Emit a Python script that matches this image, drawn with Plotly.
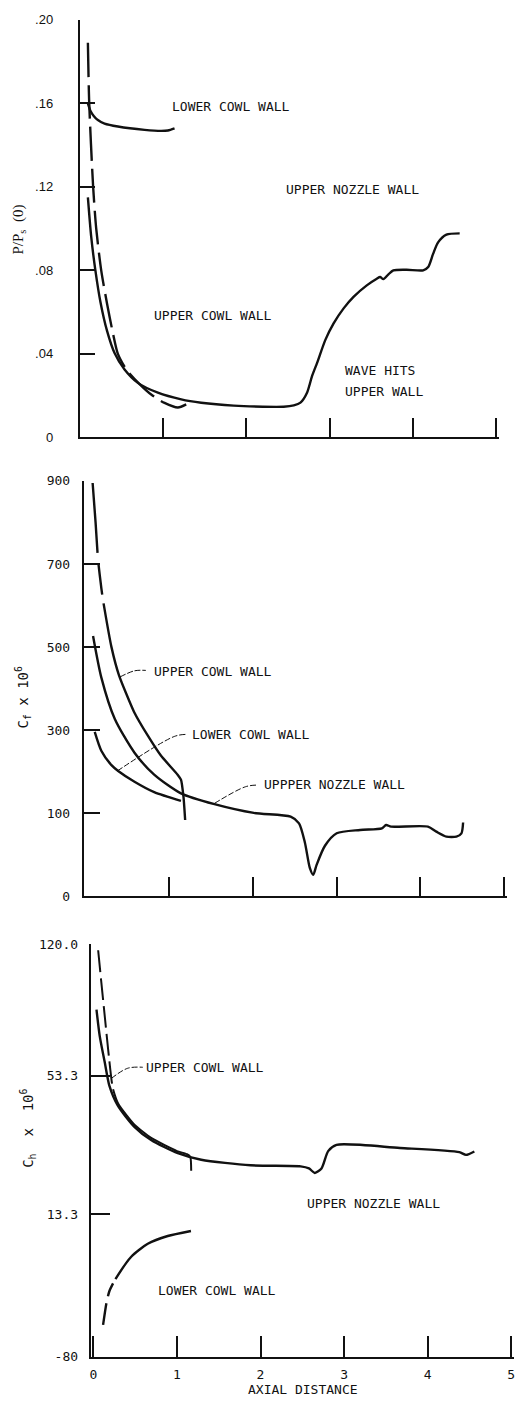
import numpy as np
import plotly.graph_objects as go

W, H = 528, 1412
INK = "#111111"

# ---------------- Panel 1: P/Ps(0) ----------------
p1_ytick_vals = [0, 0.04, 0.08, 0.12, 0.16, 0.20]
p1_ytick_text = ["0", ".04", ".08", ".12", ".16", ".20"]

p1_ucw_x = [0.10, 0.116, 0.163, 0.20, 0.26, 0.33, 0.40, 0.46, 0.57, 0.72, 0.86, 1.02, 1.18, 1.28]
p1_ucw_y = [0.189, 0.160, 0.120, 0.100, 0.080, 0.064, 0.050, 0.040, 0.032, 0.0255, 0.0205, 0.0165, 0.0143, 0.0158]

p1_unw_x = [0.10, 0.14, 0.19, 0.25, 0.33, 0.42, 0.54, 0.70, 0.94, 1.22, 1.46, 1.85, 2.20, 2.45, 2.571,
            2.651, 2.730, 2.790, 2.850, 2.950, 3.049, 3.169, 3.288, 3.447, 3.567, 3.607, 3.647, 3.707,
            3.766, 3.925, 4.124, 4.184, 4.243, 4.303, 4.403, 4.562]
p1_unw_y = [0.115, 0.096, 0.080, 0.065, 0.051, 0.0404, 0.0325, 0.0261, 0.0214, 0.0182, 0.0166, 0.0152,
            0.0147, 0.0147, 0.01536, 0.01663, 0.02138, 0.0293, 0.0356, 0.0467, 0.0546, 0.0618, 0.0673,
            0.0728, 0.0760, 0.0768, 0.0758, 0.0781, 0.0800, 0.0803, 0.0800, 0.0816, 0.0879, 0.0934,
            0.0971, 0.0977]

p1_lcw_x = [0.10, 0.13, 0.17, 0.22, 0.30, 0.46, 0.78, 0.98, 1.06, 1.14]
p1_lcw_y = [0.160, 0.1565, 0.1540, 0.1520, 0.1503, 0.1489, 0.1473, 0.1468, 0.1470, 0.1480]

# ---------------- Panel 2: Cf x 10^6 ----------------
p2_ytick_vals = [0, 100, 300, 500, 700, 900]
p2_ytick_pos = [0, 1, 2, 3, 4, 5]          # the original axis spaces these labels evenly
p2_ytick_text = ["0", "100", "300", "500", "700", "900"]

p2_ucw_x = [0.085, 0.12, 0.15, 0.19, 0.21, 0.31, 0.40, 0.58, 0.75, 0.90, 1.10, 1.14, 1.17, 1.19]
p2_ucw_y = [895, 800, 709, 640, 612, 500, 432, 344, 285, 239, 193, 181, 140, 92]

p2_unw_x = [0.09, 0.19, 0.35, 0.585, 0.82, 1.14, 1.54, 2.01, 2.45, 2.55, 2.62, 2.68, 2.72, 2.76,
            2.86, 3.0, 3.28, 3.54, 3.59, 3.65, 4.09, 4.19, 4.31, 4.43, 4.49, 4.51]
p2_unw_y = [527, 426, 327, 246, 193, 148, 122, 101, 96, 88, 65, 34, 26, 38,
            61, 76, 80, 82, 86, 84, 84, 78, 72, 72, 76, 89]

p2_lcw_x = [0.11, 0.19, 0.31, 0.39, 0.585, 0.82, 1.14]
p2_lcw_y = [296, 250, 216, 202, 176, 151, 130]

# ---------------- Panel 3: Ch x 10^6 ----------------
p3_ytick_vals = [-80, 13.3, 53.3, 120.0]
p3_ytick_pos = [0, 0.345, 0.681, 1.0]       # uneven spacing of the original axis
p3_ytick_text = ["-80", "13.3", "53.3", "120.0"]

p3_ucw_x = [0.056, 0.095, 0.135, 0.175, 0.23, 0.30, 0.49, 0.69, 1.0, 1.12, 1.16, 1.17]
p3_ucw_y = [116.8, 100.1, 83.4, 66.7, 49.8, 45.0, 39.1, 35.3, 31.5, 30.6, 29.8, 25.8]

p3_unw_x = [0.036, 0.075, 0.135, 0.19, 0.29, 0.49, 0.69, 1.01, 1.29, 1.88, 2.48, 2.58, 2.65, 2.73,
            2.81, 2.91, 3.67, 4.38, 4.46, 4.56]
p3_unw_y = [86.7, 73.3, 60, 50.4, 44.7, 38.5, 34.7, 30.9, 29.0, 27.4, 27.1, 26.5, 25.2, 26.5,
            31.5, 33.3, 32.4, 31.2, 30.4, 31.4]

p3_lcw_x = [0.115, 0.155, 0.19, 0.254, 0.452, 0.65, 0.889, 1.167]
p3_lcw_y = [-59.3, -45.0, -37.2, -30.1, -14.6, -6.1, -1.0, 2.3]

x_ticks = [0, 1, 2, 3, 4, 5]
x_tick_text = ["0", "1", "2", "3", "4", "5"]


def p2(v):
    return np.interp(v, p2_ytick_vals, p2_ytick_pos)


def p3(v):
    return np.interp(v, p3_ytick_vals, p3_ytick_pos)


fig = go.Figure()


def curve(x, y, xa, ya, dash="solid", width=2.4, smoothing=0.7):
    fig.add_trace(go.Scatter(
        x=x, y=y, xaxis=xa, yaxis=ya, mode="lines",
        line=dict(color=INK, width=width, dash=dash, shape="spline", smoothing=smoothing),
        showlegend=False, hoverinfo="skip"))


# panel 1
curve(p1_ucw_x, p1_ucw_y, "x", "y", dash="34px,8px")
curve(p1_unw_x, p1_unw_y, "x", "y")
curve(p1_lcw_x, p1_lcw_y, "x", "y")

# panel 2 (upper cowl wall: dashed near the inlet, then solid)
curve(p2_ucw_x, p2(p2_ucw_y), "x2", "y2", dash="70px,12px,30px,9px,3000px,0px", smoothing=0.5)
curve(p2_unw_x, p2(p2_unw_y), "x2", "y2")
curve(p2_lcw_x, p2(p2_lcw_y), "x2", "y2")

# panel 3
curve(p3_ucw_x, p3(p3_ucw_y), "x3", "y3",
      dash="22px,6px,22px,6px,22px,6px,22px,6px,22px,6px,3000px,0px", width=2.0, smoothing=0.5)
curve(p3_unw_x, p3(p3_unw_y), "x3", "y3")
curve(p3_lcw_x, p3(p3_lcw_y), "x3", "y3", dash="22px,7px,14px,5px,3000px,0px", smoothing=0.6)

# leader lines (label callouts)
lead = dict(color=INK, width=1.0, dash="6px,2px", shape="spline")
leaders = [
    ("x2", "y2", [0.41, 0.585, 0.72], p2([428, 443, 444])),
    ("x2", "y2", [0.38, 1.06, 1.20], p2([202, 285, 290])),
    ("x2", "y2", [1.54, 1.91, 2.05], p2([124, 164, 168])),
    ("x3", "y3", [0.21, 0.41, 0.59], p3([52.4, 57.0, 57.5])),
]
for xa, ya, lx, ly in leaders:
    fig.add_trace(go.Scatter(x=lx, y=ly, xaxis=xa, yaxis=ya, mode="lines", line=lead,
                             showlegend=False, hoverinfo="skip"))

MONO = "DejaVu Sans Mono"


def px_x(p):
    return p / W


def px_y(p):
    return 1 - p / H


axis_common = dict(showline=True, linecolor=INK, linewidth=1.6, ticks="inside", tickcolor=INK,
                   tickwidth=1.6, showgrid=False, zeroline=False, fixedrange=True)

XMAX = 5.03

fig.update_layout(
    width=W, height=H, margin=dict(l=0, r=0, t=0, b=0),
    paper_bgcolor="white", plot_bgcolor="white",
    font=dict(family=MONO, size=13, color=INK),
    xaxis=dict(domain=[px_x(78), px_x(497 + 0.03 * 83.8)], range=[0, XMAX], anchor="y",
               tickvals=x_ticks[1:], showticklabels=False, ticklen=20, **axis_common),
    yaxis=dict(domain=[px_y(435), px_y(13)], range=[0, 0.2], anchor="x", tickvals=p1_ytick_vals,
               ticktext=p1_ytick_text, ticklen=16, ticklabelstandoff=22,
               tickfont=dict(family="Liberation Sans", size=13, color=INK), **axis_common),
    xaxis2=dict(domain=[px_x(82), px_x(505 + 0.03 * 84.2)], range=[-2 / 84.2, XMAX], anchor="y2",
                tickvals=x_ticks[1:], showticklabels=False, ticklen=20, **axis_common),
    yaxis2=dict(domain=[px_y(899), px_y(479)], range=[0, 5], anchor="x2", tickvals=p2_ytick_pos,
                ticktext=p2_ytick_text, ticklen=17, ticklabelstandoff=9,
                tickfont=dict(family=MONO, size=13, color=INK), **axis_common),
    xaxis3=dict(domain=[px_x(90), px_x(512 + 0.03 * 84)], range=[-2 / 84, XMAX], anchor="y3",
                tickvals=x_ticks, ticktext=x_tick_text, ticklen=21, ticklabelstandoff=5,
                tickfont=dict(family=MONO, size=13, color=INK), **axis_common),
    yaxis3=dict(domain=[px_y(1364), px_y(947)], range=[0, 1], anchor="x3", tickvals=p3_ytick_pos,
                ticktext=p3_ytick_text, ticklen=19, ticklabelstandoff=9,
                tickfont=dict(family=MONO, size=13, color=INK), **axis_common),
)

labels = [
    ("LOWER COWL WALL", 230, 101, "center"),
    ("UPPER NOZZLE WALL", 352, 184, "center"),
    ("UPPER COWL WALL", 212, 312, "center"),
    ("WAVE HITS", 343, 367, "left"),
    ("UPPER WALL", 343, 389, "left"),
    ("UPPER COWL WALL", 151, 672, "left"),
    ("LOWER COWL WALL", 189, 735, "left"),
    ("UPPPER NOZZLE WALL", 261, 786, "left"),
    ("UPPER COWL WALL", 143, 1072, "left"),
    ("UPPER NOZZLE WALL", 305, 1209, "left"),
    ("LOWER COWL WALL", 155, 1297, "left"),
    ("AXIAL DISTANCE", 303, 1397, "center"),
]
for text, lx, ly, anc in labels:
    fig.add_annotation(text=text, x=px_x(lx), y=px_y(ly), xref="paper", yref="paper",
                       xanchor=anc, yanchor="middle", showarrow=False,
                       font=dict(family=MONO, size=13, color=INK))

ytitles = [
    ("P/P<sub>s</sub>  (0)", 17, 225, "Liberation Serif", 15),
    ("C<sub>f</sub> x 10<sup>6</sup>", 21, 697, MONO, 14),
    ("C<sub>h</sub>  x  10<sup>6</sup>", 26, 1133, MONO, 14),
]
for text, lx, ly, fam, sz in ytitles:
    fig.add_annotation(text=text, x=px_x(lx), y=px_y(ly), xref="paper", yref="paper",
                       xanchor="center", yanchor="middle", showarrow=False, textangle=-90,
                       font=dict(family=fam, size=sz, color=INK))

fig.write_html("out.html", config={"displayModeBar": False})
